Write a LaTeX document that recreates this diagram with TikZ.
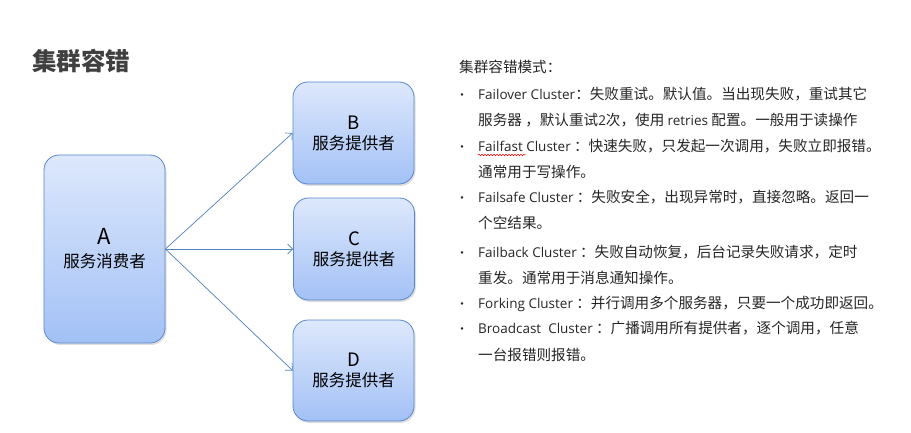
\documentclass[tikz,border=0pt]{standalone}
\usepackage{fontspec}
\setmainfont{Noto Sans CJK SC}
\newfontfamily\latfont{Open Sans}
\newcommand\lat[1]{{\latfont\fontsize{13.5}{14}\selectfont #1}}
\usetikzlibrary{shadows,decorations.pathmorphing,arrows.meta}
\definecolor{boxline}{HTML}{5A87CC}
\definecolor{boxtop}{HTML}{DDE8FC}
\definecolor{boxbot}{HTML}{A3C1F6}
\definecolor{arrcol}{HTML}{4F81BD}
\definecolor{txt}{HTML}{262626}
\definecolor{ttl}{HTML}{404040}
\begin{document}
\begin{tikzpicture}[x=1pt,y=-1pt,
  box/.style={draw=boxline, line width=0.8pt, rounded corners=15pt,
    top color=boxtop, bottom color=boxbot,
    drop shadow={shadow xshift=1.5pt, shadow yshift=-2pt, opacity=0.25},
    align=center, inner sep=0pt, minimum width=121pt,
    font=\fontsize{16.5}{20}\selectfont, text=black},
  arr/.style={draw=arrcol, line width=0.7pt, -{Straight Barb[length=5pt,width=10pt]}},
  item/.style={anchor=base west, inner sep=0pt, font=\fontsize{14.6}{14}\selectfont, text=txt},
  dot/.style={anchor=base, inner sep=0pt, font=\fontsize{12}{12}\selectfont, text=txt}]
\useasboundingbox[fill=white] (0,0) rectangle (911,433);

\node[anchor=base west, inner sep=0pt, font=\fontsize{24.5}{24.5}\selectfont\bfseries, text=ttl] (title) at (32,71) {集群容错};

\node[box, minimum height=188pt, font=\fontsize{16.5}{23}\selectfont] (A) at (104.5,249) {{\fontsize{22}{23}\selectfont A}\\服务消费者};
\node[box, minimum height=102pt] (B) at (353.5,133) {{\fontsize{18.5}{20}\selectfont B}\\服务提供者};
\node[box, minimum height=102pt] (C) at (354,249) {{\fontsize{18.5}{20}\selectfont C}\\服务提供者};
\node[box, minimum height=101pt] (D) at (353.5,370.5) {{\fontsize{18.5}{20}\selectfont D}\\服务提供者};

\draw[arr] (A.east) -- (B.west);
\draw[arr] (A.east) -- (C.west);
\draw[arr] (A.east) -- (D.west);

\node[item] (h) at (459,73) {集群容错模式：};

\node[dot] (d1) at (462,100) {•};
\node[dot] (d2) at (462,152) {•};
\node[dot] (d3) at (462,203) {•};
\node[dot] (d4) at (462,257) {•};
\node[dot] (d5) at (462,308) {•};
\node[dot] (d6) at (462,333) {•};

\node[item] (l1) at (478,100) {\lat{Failover Cluster}：失败重试。默认值。当出现失败，重试其它};
\node[item] (l2) at (478,126) {服务器 ，默认重试\lat{2}次，使用 \lat{retries} 配置。一般用于读操作};
\node[item] (l3) at (478,152) {\lat{Failfast Cluster} ：快速失败，只发起一次调用，失败立即报错。};
\node[item] (l4) at (478,178) {通常用于写操作。};
\node[item] (l5) at (478,203) {\lat{Failsafe Cluster} ：失败安全，出现异常时，直接忽略。返回一};
\node[item] (l6) at (478,229) {个空结果。};
\node[item] (l7) at (478,257) {\lat{Failback Cluster} ：失败自动恢复，后台记录失败请求，定时};
\node[item] (l8) at (478,283) {重发。通常用于消息通知操作。};
\node[item] (l9) at (478,308) {\lat{Forking Cluster} ：并行调用多个服务器，只要一个成功即返回。};
\node[item] (l10) at (478,333) {\lat{Broadcast\ \ Cluster} ：广播调用所有提供者，逐个调用，任意};
\node[item] (l11) at (478,360) {一台报错则报错。};

\draw[red, line width=0.5pt, decorate, decoration={snake, amplitude=0.8pt, segment length=3pt}] (478,155) -- (526,155);
\end{tikzpicture}
\end{document}
